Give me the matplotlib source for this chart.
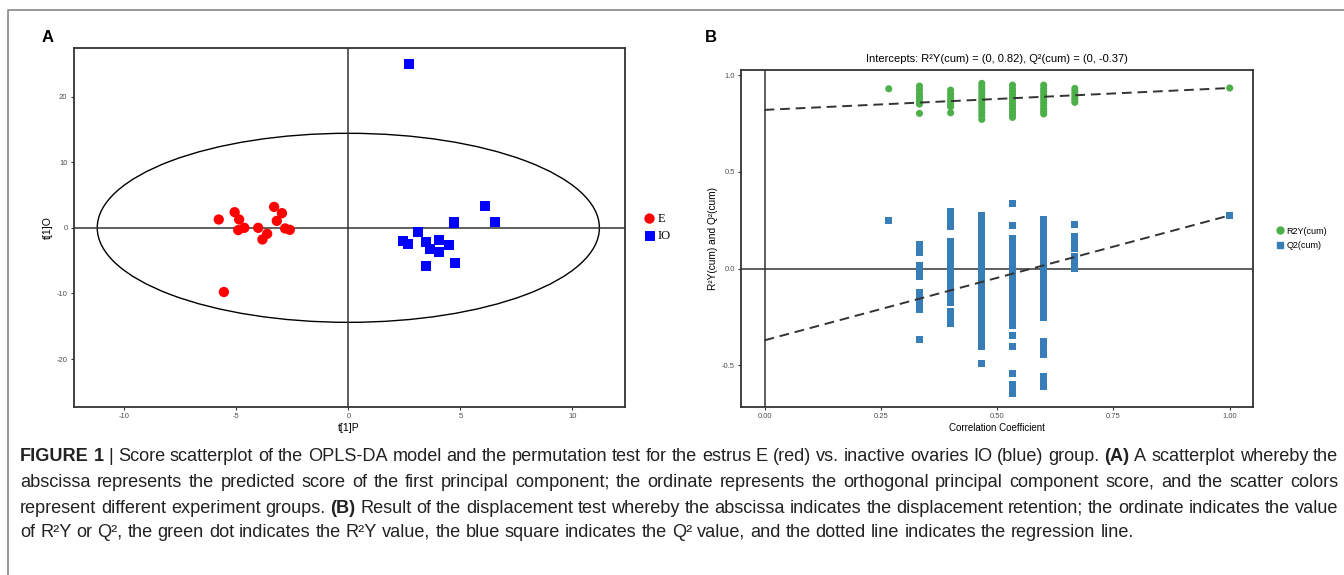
import numpy as np
import matplotlib
matplotlib.use("Agg")
import matplotlib.pyplot as plt
from matplotlib.patches import Ellipse
from matplotlib.lines import Line2D
from matplotlib.font_manager import FontProperties

plt.rcParams['font.family'] = ['Liberation Sans', 'DejaVu Sans']
plt.rcParams['axes.unicode_minus'] = False

# --- Panel A: OPLS-DA scores ---
e_x = [-5.78, -5.07, -4.87, -4.91, -4.64, -4.02, -3.83, -3.62, -3.31, -2.96, -3.19, -2.82, -2.61, -5.55]
e_y = [1.27, 2.38, 1.27, -0.35, 0.0, 0.0, -1.77, -0.91, 3.19, 2.23, 1.06, -0.10, -0.30, -9.78]
io_x = [2.71, 2.42, 2.65, 3.09, 3.48, 4.04, 3.66, 4.06, 4.51, 3.48, 4.78, 4.70, 6.09, 6.54]
io_y = [24.9, -2.03, -2.53, -0.66, -2.18, -1.87, -3.19, -3.65, -2.68, -5.83, -5.42, 0.81, 3.29, 0.86]
ellipse_a = 11.2   # T2 ellipse half-width (t[1]P)
ellipse_b = 14.4   # T2 ellipse half-height (t[1]O)

# --- Panel B: permutation test ---
perm_x = [0.267, 0.333, 0.400, 0.467, 0.533, 0.600, 0.667, 1.000]
r2_vals = [
    [0.929],
    [0.943, 0.925, 0.905, 0.89, 0.875, 0.862, 0.850, 0.802],
    [0.922, 0.905, 0.89, 0.875, 0.862, 0.848, 0.836, 0.805],
    [0.957, 0.94, 0.925, 0.91, 0.895, 0.88, 0.865, 0.85, 0.835, 0.82, 0.805, 0.79, 0.771],
    [0.948, 0.93, 0.915, 0.90, 0.885, 0.87, 0.855, 0.84, 0.825, 0.81, 0.795, 0.781],
    [0.948, 0.93, 0.915, 0.90, 0.885, 0.87, 0.855, 0.84, 0.826, 0.812, 0.799],
    [0.931, 0.915, 0.90, 0.885, 0.872, 0.859],
    [0.933],
]
q2_vals = [
    [0.248],
    [0.127, 0.105, 0.083, 0.014, -0.008, -0.025, -0.041, -0.124, -0.145, -0.165, -0.19, -0.213, -0.365],
    [0.294, 0.27, 0.245, 0.22, 0.138, 0.11, 0.083, 0.076, 0.05, 0.025, 0.0, -0.02, -0.041,
     -0.05, -0.075, -0.10, -0.125, -0.15, -0.176, -0.222, -0.25, -0.282],
    [0.274, 0.25, 0.225, 0.20, 0.175, 0.15, 0.125, 0.10, 0.075, 0.05, 0.025, 0.0, -0.025, -0.05,
     -0.075, -0.10, -0.125, -0.15, -0.17, -0.193, -0.227, -0.25, -0.275, -0.30, -0.325, -0.342,
     -0.37, -0.403, -0.489],
    [0.336, 0.222, 0.157, 0.13, 0.105, 0.08, 0.055, 0.03, 0.005, -0.02, -0.045, -0.07, -0.095,
     -0.12, -0.145, -0.17, -0.195, -0.22, -0.239, -0.244, -0.268, -0.291, -0.344, -0.403, -0.540,
     -0.596, -0.62, -0.647],
    [0.255, 0.23, 0.205, 0.18, 0.155, 0.13, 0.105, 0.08, 0.055, 0.03, 0.0, -0.025, -0.05, -0.075,
     -0.10, -0.125, -0.15, -0.175, -0.20, -0.225, -0.251, -0.377, -0.41, -0.442, -0.558, -0.585, -0.609],
    [0.229, 0.165, 0.135, 0.105, 0.062, 0.032, 0.002],
    [0.275],
]
r2_intercept = 0.82
q2_intercept = -0.37

caption_lines = [
    "FIGURE 1 | Score scatterplot of the OPLS-DA model and the permutation test for the estrus E (red) "
    "vs. inactive ovaries IO (blue) group. (A) A scatterplot whereby the",
    "abscissa represents the predicted score of the first principal component; the ordinate represents "
    "the orthogonal principal component score, and the scatter colors",
    "represent different experiment groups. (B) Result of the displacement test whereby the abscissa "
    "indicates the displacement retention; the ordinate indicates the value",
    "of R²Y or Q², the green dot indicates the R²Y value, the blue square indicates the Q² value, "
    "and the dotted line indicates the regression line.",
]
bold_words = {"FIGURE", "1", "(A)", "(B)"}

W, H = 1344, 575
fig = plt.figure(figsize=(W / 100, H / 100), dpi=100)


def box(l, r, t, b):
    return [l / W, 1 - b / H, (r - l) / W, (b - t) / H]


def style_axes(ax):
    for s in ax.spines.values():
        s.set_color('#333333')
        s.set_linewidth(1.3)
    ax.tick_params(length=2.5, width=0.8, color='#333333', labelsize=5.5,
                   labelcolor='#4d4d4d', pad=2)


# outer frame of the figure
fig.add_artist(Line2D([8 / W, 8 / W, 1], [0, 1 - 10 / H, 1 - 10 / H],
                      color='#888888', lw=1.2, transform=fig.transFigure))

# ---------------- Panel A ----------------
axA = fig.add_axes(box(73.7, 624.5, 48.3, 407))
axA.add_patch(Ellipse((0, 0), 2 * ellipse_a, 2 * ellipse_b, fill=False, ec='black', lw=1.0))
axA.axhline(0, color='#333333', lw=1.1)
axA.axvline(0, color='#333333', lw=1.1)
hE = axA.scatter(e_x, e_y, s=55, c='#ff0000', marker='o', edgecolors='none', label='E', zorder=3)
hIO = axA.scatter(io_x, io_y, s=52, c='#0000ff', marker='s', edgecolors='none', label='IO', zorder=3)
axA.set_xlim(-12.25, 12.32)
axA.set_ylim(-27.3, 27.35)
axA.set_xticks([-10, -5, 0, 5, 10])
axA.set_yticks([-20, -10, 0, 10, 20])
style_axes(axA)
axA.set_xlabel('t[1]P', fontsize=7.5, labelpad=2)
axA.set_ylabel('t[1]O', fontsize=7.5, labelpad=3)
axA.legend(handles=[hE, hIO], loc='center left', bbox_to_anchor=(1.025, 0.5), frameon=False,
           prop={'family': ['Liberation Serif'], 'size': 9}, handletextpad=0.15,
           labelspacing=0.45, borderaxespad=0, handlelength=1.0, markerscale=1.0)
fig.text(42 / W, 1 - 38 / H, 'A', fontsize=12, fontweight='bold', va='center', ha='left')

# ---------------- Panel B ----------------
axB = fig.add_axes(box(741.3, 1253, 70, 406.7))
axB.axhline(0, color='#333333', lw=1.1)
axB.axvline(0, color='#333333', lw=1.1)
for x, ys in zip(perm_x, q2_vals):
    axB.scatter([x] * len(ys), ys, s=26, marker='s', c='#377eb8', edgecolors='none', zorder=3)
for x, ys in zip(perm_x, r2_vals):
    axB.scatter([x] * len(ys), ys, s=26, marker='o', c='#4daf4a', edgecolors='none', zorder=3)
axB.plot([0, perm_x[-1]], [r2_intercept, r2_vals[-1][0]], color='#333333', lw=1.4,
         dashes=(5, 3), zorder=4)
axB.plot([0, perm_x[-1]], [q2_intercept, q2_vals[-1][0]], color='#333333', lw=1.4,
         dashes=(5, 3), zorder=4)
axB.set_xlim(-0.05, 1.05)
axB.set_ylim(-0.713, 1.026)
axB.set_xticks([0, 0.25, 0.5, 0.75, 1.0])
axB.set_xticklabels(['0.00', '0.25', '0.50', '0.75', '1.00'])
axB.set_yticks([-0.5, 0.0, 0.5, 1.0])
axB.set_yticklabels(['-0.5', '0.0', '0.5', '1.0'])
style_axes(axB)
axB.set_xlabel('Correlation Coefficient', fontsize=7, labelpad=2)
axB.set_ylabel('R²Y(cum) and Q²(cum)', fontsize=7.3, labelpad=3)
axB.set_title('Intercepts: R²Y(cum) = (0, 0.82), Q²(cum) = (0, -0.37)', fontsize=8, pad=6)
legB = [Line2D([], [], ls='none', marker='o', ms=5, color='#4daf4a', label='R2Y(cum)'),
        Line2D([], [], ls='none', marker='s', ms=5, color='#377eb8', label='Q2(cum)')]
axB.legend(handles=legB, loc='center left', bbox_to_anchor=(1.035, 0.5), frameon=False,
           fontsize=6.5, handletextpad=0.1, labelspacing=0.6, borderaxespad=0, handlelength=1.2)
fig.text(705 / W, 1 - 37 / H, 'B', fontsize=12, fontweight='bold', va='center', ha='left')

# ---------------- Caption (justified, one text per word) ----------------
renderer = fig.canvas.get_renderer()
family = plt.rcParams['font.family']


def metrics(s, size, weight='normal'):
    prop = FontProperties(family=family, size=size, weight=weight)
    return renderer.get_text_width_height_descent(s, prop, ismath=False)


def text_width(s, size, weight='normal'):
    t = fig.text(0, 0, s, fontsize=size, fontweight=weight)
    w = t.get_window_extent(renderer).width
    t.remove()
    return w


base = 10
cap_size = base * (1137 - 20) / text_width(caption_lines[-1], base)
space_w = text_width('a a', cap_size) - text_width('aa', cap_size)

x_left, x_right = 20, 1338
baselines = [461, 487, 513, 537]   # pixel rows from the top
for i, line in enumerate(caption_lines):
    words = line.split(' ')
    weights = ['bold' if w in bold_words and (i == 0 or w == '(B)') else 'normal' for w in words]
    widths = [text_width(w, cap_size, wt) for w, wt in zip(words, weights)]
    if i < len(caption_lines) - 1:
        gap = (x_right - x_left - sum(widths)) / (len(words) - 1)
    else:
        gap = space_w
    x = x_left
    for w, wt, ww in zip(words, weights, widths):
        # keep every word on the same pixel baseline despite bitmap rounding
        _, h, d = metrics(w, cap_size, wt)
        y_rows = baselines[i] + np.floor(h) - np.floor(h - d) - d
        fig.text(x / W, (H - y_rows) / H, w, fontsize=cap_size, fontweight=wt,
                 va='baseline', ha='left', color='#222222')
        x += ww + gap

fig.savefig('out.png', dpi=100)
